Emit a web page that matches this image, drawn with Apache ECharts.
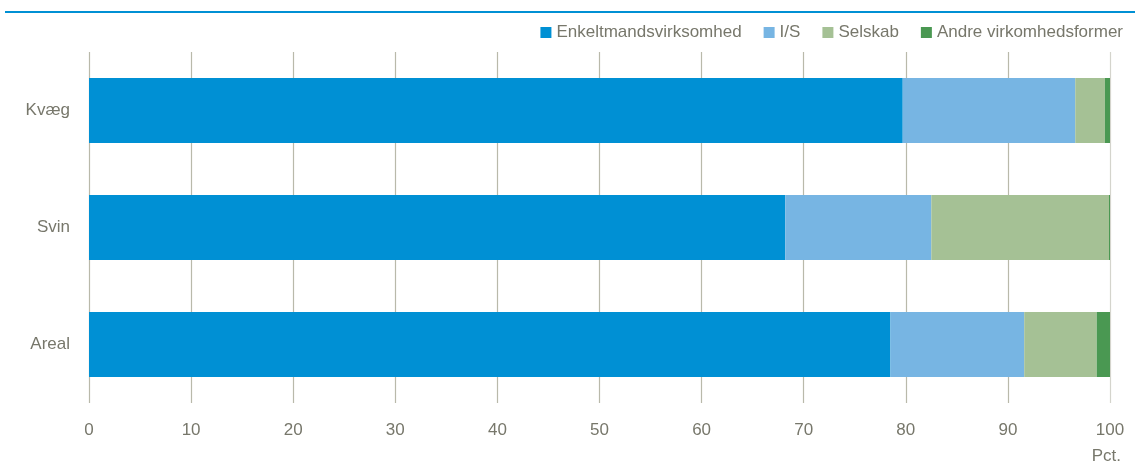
<!DOCTYPE html>
<html>
<head>
<meta charset="utf-8">
<script src="https://cdn.jsdelivr.net/npm/echarts@6/dist/echarts.min.js"></script>
<style>
  html, body { margin: 0; padding: 0; background: #fff; }
  #chart { width: 1135px; height: 464px; }
</style>
</head>
<body>
<div id="chart"></div>
<script>
// kategorier (oppefra og ned)
const categories = ['Kvæg', 'Svin', 'Areal'];
const seriesNames = ['Enkeltmandsvirksomhed', 'I/S', 'Selskab', 'Andre virkomhedsformer'];
const enkelt = [79.7, 68.2, 78.5];
const is = [16.9, 14.3, 13.1];
const selskab = [2.9, 17.4, 7.1];
const andre = [0.5, 0.1, 1.3];
const xTicks = [0, 10, 20, 30, 40, 50, 60, 70, 80, 90, 100];

const colors = ['#0090d4', '#77b5e3', '#a5c195', '#4a9852'];
const textColor = '#77776b';
const font = '"Liberation Sans Narrow", "Liberation Sans", sans-serif';
const grid = '#b9b9aa';

const values = [enkelt, is, selskab, andre];

const chart = echarts.init(document.getElementById('chart'));
chart.setOption({
  animation: false,
  color: colors,
  textStyle: { fontFamily: font },
  legend: {
    right: 7,
    top: 19,
    itemWidth: 11,
    itemHeight: 11,
    itemGap: 22,
    icon: 'rect',
    textStyle: { color: textColor, fontSize: 17, fontFamily: font, padding: [0, 0, 0, 0] },
    data: seriesNames
  },
  grid: { left: 89, right: 25, top: 52, bottom: 61, containLabel: false },
  xAxis: {
    type: 'value',
    min: 0,
    max: 100,
    interval: 10,
    axisLine: { show: false },
    axisTick: { show: false },
    splitLine: {
      show: true,
      lineStyle: { color: [grid, grid, grid, grid, grid, grid, grid, grid, grid, grid, '#d4d4cc'], width: 1.2 }
    },
    axisLabel: {
      color: textColor,
      fontSize: 17,
      fontFamily: font,
      margin: 19,
      formatter: v => xTicks.includes(v) ? String(v) : ''
    }
  },
  yAxis: {
    type: 'category',
    inverse: true,
    data: categories,
    axisLine: { show: false },
    axisTick: { show: false },
    axisLabel: { color: textColor, fontSize: 17, fontFamily: font, margin: 19 }
  },
  graphic: [
    {
      type: 'rect',
      left: 5,
      top: 11,
      shape: { width: 1130, height: 2 },
      style: { fill: '#0090d4' }
    },
    {
      type: 'text',
      right: 14,
      top: 448,
      style: { text: 'Pct.', fill: textColor, font: '17px ' + font }
    }
  ],
  series: seriesNames.map((name, i) => ({
    name: name,
    type: 'bar',
    stack: 'total',
    barWidth: 65,
    data: values[i],
    itemStyle: { color: colors[i] }
  }))
});
</script>
</body>
</html>
